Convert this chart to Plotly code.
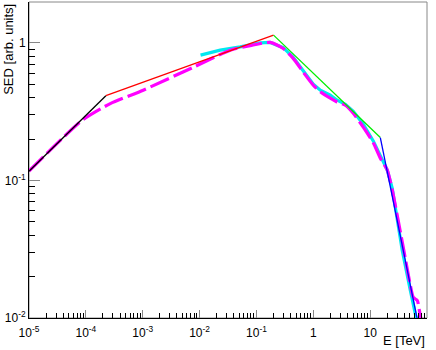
import plotly.graph_objects as go

# broken power law: break energies [TeV] and SED values at the breaks
break_e = [1e-5, 2.25e-4, 0.2, 15.1, 70.0]
break_sed = [0.1167, 0.413, 1.138, 0.205, 0.00908]
segment_colors = ["#000000", "#ff0000", "#00ee00", "#0000ff"]

# smooth model (cyan)
cyan_e = [0.0104, 0.0231, 0.052, 0.116, 0.174, 0.296, 0.44, 0.667, 1.0, 1.33,
          1.99, 2.64, 3.66, 5.05, 7.57, 11.4, 15.1, 20.0, 24.5, 36.7, 50.8, 64.7]
cyan_sed = [0.815, 0.885, 0.935, 1.0, 1.007, 0.923, 0.787, 0.622, 0.501, 0.453,
            0.417, 0.383, 0.358, 0.318, 0.256, 0.193, 0.15, 0.119, 0.0877, 0.031,
            0.0159, 0.00995]

# dashed model (magenta)
mag_e = [1e-5, 8.65e-5, 2.69e-4, 1.02e-3, 7.76e-3, 0.0346, 0.0776, 0.175, 0.296,
         0.44, 0.667, 1.0, 1.33, 1.99, 2.61, 3.66, 5.05, 7.57, 11.4, 15.1, 20.0,
         24.5, 39.1, 50.9, 57.5, 67.6, 73.3, 79.4]
mag_sed = [0.117, 0.274, 0.362, 0.453, 0.665, 0.885, 0.955, 1.007, 0.91, 0.774,
           0.612, 0.492, 0.441, 0.396, 0.372, 0.352, 0.308, 0.244, 0.187, 0.145,
           0.119, 0.0849, 0.031, 0.0173, 0.0141, 0.0134, 0.0114, 0.00955]

x_ticks = [1e-5, 1e-4, 1e-3, 1e-2, 1e-1, 1, 10, 100]
x_labels = ["10<sup>-5</sup>", "10<sup>-4</sup>", "10<sup>-3</sup>", "10<sup>-2</sup>",
            "10<sup>-1</sup>", "1", "10", "10<sup>2</sup>"]
y_ticks = [1e-2, 1e-1, 1]
y_labels = ["10<sup>-2</sup>", "10<sup>-1</sup>", "1"]

fig = go.Figure()

fig.add_trace(go.Scatter(x=cyan_e, y=cyan_sed, mode="lines",
                         line=dict(color="#00e8f0", width=3.2)))
fig.add_trace(go.Scatter(x=mag_e, y=mag_sed, mode="lines",
                         line=dict(color="#ff00ff", width=3.2, dash="20px,5px", shape="spline",
                                   smoothing=0.6)))

for i, c in enumerate(segment_colors):
    fig.add_trace(go.Scatter(x=break_e[i:i + 2], y=break_sed[i:i + 2], mode="lines",
                             line=dict(color=c, width=1.3)))

font = dict(family="Liberation Sans, Arial", size=12, color="black")

fig.update_layout(
    width=436, height=350,
    margin=dict(l=29, r=9, t=2, b=32),
    paper_bgcolor="white", plot_bgcolor="white",
    showlegend=False,
    font=font,
    xaxis=dict(type="log", range=[-5, 2], tickvals=x_ticks, ticktext=x_labels,
               automargin=False, ticklabelstandoff=4,
               showgrid=False, zeroline=False, showline=True, linecolor="black",
               ticks="inside", ticklen=8, tickcolor="#888",
               minor=dict(ticks="inside", ticklen=5, tickcolor="black", dtick="D1",
                          showgrid=False)),
    yaxis=dict(type="log", range=[-2, 0.297], tickvals=y_ticks, ticktext=y_labels,
               automargin=False,
               showgrid=False, zeroline=False, showline=True, linecolor="black",
               ticks="inside", ticklen=11, tickcolor="#888",
               minor=dict(ticks="inside", ticklen=6, tickcolor="black", dtick="D1",
                          showgrid=False)),
    shapes=[dict(type="rect", xref="paper", yref="paper", x0=0, x1=1, y0=0, y1=1,
                 line=dict(color="#888", width=1), layer="below")],
    annotations=[
        dict(text="SED [arb. units]", textangle=-90, xref="paper", yref="paper",
             x=-0.052, y=1, xanchor="center", yanchor="top", showarrow=False,
             font=dict(family="Liberation Sans, Arial", size=13)),
        dict(text="E [TeV]", xref="paper", yref="paper", x=1.0, y=-0.07,
             xanchor="right", yanchor="middle", showarrow=False,
             font=dict(family="Liberation Sans, Arial", size=13)),
    ],
)

# the page's default body margin would shift the figure by 8px
fig.write_html("out.html", config={"displayModeBar": False},
               post_script="document.body.style.margin='0';")
